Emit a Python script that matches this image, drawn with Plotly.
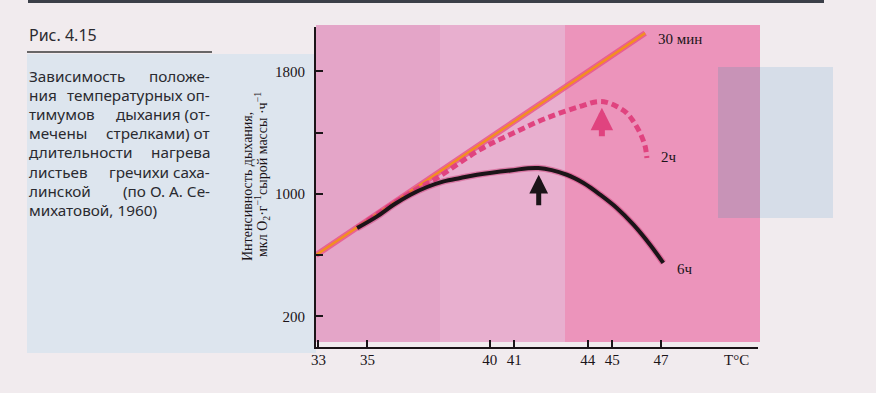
import plotly.graph_objects as go

# ---------------- data ----------------
t_30min = [32.9, 40.0, 46.35]
r_30min = [600, 1368, 2050]

t_2h = [35.0, 36.76, 37.84, 39.6, 40.97, 42.33, 43.69, 44.38, 44.78, 45.19, 45.6, 45.87, 46.14, 46.35, 46.42]
r_2h = [825, 1008, 1104, 1289, 1398, 1496, 1571, 1602, 1598, 1571, 1528, 1473, 1398, 1310, 1234]

t_6h = [34.58, 35.4, 36.07, 36.76, 37.44, 38.12, 38.8, 39.48, 40.84, 41.99, 43.15, 43.83, 44.51, 45.19, 45.87, 46.55, 47.09]
r_6h = [777, 853, 929, 995, 1045, 1082, 1104, 1125, 1153, 1169, 1125, 1071, 995, 908, 799, 668, 549]

series_names = ["30 мин", "2ч", "6ч"]

# optimum arrows (temperature, arrow tip, arrow tail)
opt_t = [42.0, 44.58]
opt_tip = [1125, 1563]
opt_tail = [916, 1367]

x_ticks = [33, 35, 40, 41, 44, 45, 47]
y_ticks = [200, 600, 1000, 1400, 1800]
y_ticktext = ["200", "", "1000", "", "1800"]

caption_title = "Рис. 4.15"
caption_lines = [
    ("Зависимость", "положе-"),
    ("ния", "температурных оп-"),
    ("тимумов", "дыхания (от-"),
    ("мечены", "стрелками) от"),
    ("длительности", "нагрева"),
    ("листьев", "гречихи саха-"),
    ("линской", "(по О. А. Се-"),
    ("михатовой, 1960)", None),
]

# ---------------- layout helpers ----------------
W, H = 876, 393
L, R, T, B = 316, 758, 27, 347  # plot area in pixels


def xp(px):
    return (px - L) / (R - L)


def yp(py):
    return (B - py) / (B - T)


SERIF = "Liberation Serif, Times New Roman, serif"
SANS = "Noto Sans, DejaVu Sans, sans-serif"
INK = "#1b1418"
TXT = "#2a2a30"

fig = go.Figure()

# 30 min: orange line with pink halo
fig.add_trace(go.Scatter(x=t_30min, y=r_30min, mode="lines",
                         line=dict(color="rgba(232,80,135,0.8)", width=6),
                         hoverinfo="skip", showlegend=False))
fig.add_trace(go.Scatter(x=t_30min, y=r_30min, mode="lines", name=series_names[0],
                         line=dict(color="#f28e22", width=2.5), showlegend=False))

# 2 h: pink dashed curve
fig.add_trace(go.Scatter(x=t_2h, y=r_2h, mode="lines", name=series_names[1],
                         line=dict(color="#e0437f", width=5, dash="7px,4px", shape="spline"),
                         showlegend=False))

# 6 h: black curve with reddish halo
fig.add_trace(go.Scatter(x=t_6h, y=r_6h, mode="lines",
                         line=dict(color="rgba(200,50,110,0.45)", width=6.5, shape="spline"),
                         hoverinfo="skip", showlegend=False))
fig.add_trace(go.Scatter(x=t_6h, y=r_6h, mode="lines", name=series_names[2],
                         line=dict(color=INK, width=4, shape="spline"),
                         showlegend=False))

shapes = []
# top dark rule
shapes.append(dict(type="rect", xref="paper", yref="paper", x0=xp(28), x1=xp(824), y0=yp(3), y1=yp(0),
                   fillcolor="#3b3f48", line=dict(width=0), layer="below"))
# left blue caption panel
shapes.append(dict(type="rect", xref="paper", yref="paper", x0=xp(27), x1=xp(316), y0=yp(353), y1=yp(54),
                   fillcolor="#dde5ee", line=dict(width=0), layer="below"))
# divider under caption title
shapes.append(dict(type="line", xref="paper", yref="paper", x0=xp(27), x1=xp(212), y0=yp(52), y1=yp(52),
                   line=dict(color="#3a3a3a", width=1.3), layer="below"))
# right blue panel
shapes.append(dict(type="rect", xref="paper", yref="paper", x0=xp(718), x1=xp(833), y0=yp(218), y1=yp(67),
                   fillcolor="#d6dde8", line=dict(width=0), layer="below"))
# pink plot backgrounds
shapes.append(dict(type="rect", xref="paper", yref="paper", x0=xp(316), x1=xp(440), y0=yp(342), y1=yp(25),
                   fillcolor="#e4a5c8", line=dict(width=0), layer="below"))
shapes.append(dict(type="rect", xref="paper", yref="paper", x0=xp(440), x1=xp(565), y0=yp(342), y1=yp(25),
                   fillcolor="#e8afcf", line=dict(width=0), layer="below"))
shapes.append(dict(type="rect", xref="paper", yref="paper", x0=xp(565), x1=xp(760), y0=yp(342), y1=yp(25),
                   fillcolor="#ec94bb", line=dict(width=0), layer="below"))
# overlap of pink and blue panel
shapes.append(dict(type="rect", xref="paper", yref="paper", x0=xp(718), x1=xp(760), y0=yp(218), y1=yp(67),
                   fillcolor="#c893b7", line=dict(width=0), layer="below"))

annotations = []
# caption
annotations.append(dict(text=caption_title, xref="paper", yref="paper", x=xp(27), y=yp(35),
                        xanchor="left", yanchor="middle", showarrow=False,
                        font=dict(family=SANS, size=16, color=TXT)))
for i, (left, right) in enumerate(caption_lines):
    ypos = yp(76 + i * 19.1)
    annotations.append(dict(text=left, xref="paper", yref="paper", x=xp(27), y=ypos,
                            xanchor="left", yanchor="middle", showarrow=False,
                            font=dict(family=SANS, size=15.3, color=TXT)))
    if right:
        annotations.append(dict(text=right, xref="paper", yref="paper", x=xp(212), y=ypos,
                                xanchor="right", yanchor="middle", showarrow=False,
                                font=dict(family=SANS, size=15.3, color=TXT)))

# y axis title (two rotated lines)
annotations.append(dict(text="Интенсивность дыхания,", xref="paper", yref="paper", x=xp(247), y=yp(187),
                        textangle=-90, xanchor="center", yanchor="middle", showarrow=False,
                        font=dict(family=SERIF, size=14, color=INK)))
annotations.append(dict(text="мкл O<sub>2</sub>·г<sup>−1</sup>сырой массы ·ч<sup>−1</sup>", xref="paper", yref="paper",
                        x=xp(262), y=yp(175), textangle=-90, xanchor="center", yanchor="middle", showarrow=False,
                        font=dict(family=SERIF, size=14, color=INK)))

# x axis unit
annotations.append(dict(text="T°C", xref="x", yref="paper", x=50.1, y=yp(360),
                        xanchor="center", yanchor="middle", showarrow=False,
                        font=dict(family=SERIF, size=15, color=INK)))

# series labels at line ends
annotations.append(dict(text=series_names[0], x=t_30min[-1], y=r_30min[-1], xanchor="left", yanchor="middle",
                        xshift=11, yshift=-6, showarrow=False, font=dict(family=SERIF, size=15, color=INK)))
annotations.append(dict(text=series_names[1], x=t_2h[-1], y=r_2h[-1], xanchor="left", yanchor="middle",
                        xshift=12, yshift=1, showarrow=False, font=dict(family=SERIF, size=15, color=INK)))
annotations.append(dict(text=series_names[2], x=t_6h[-1], y=r_6h[-1], xanchor="left", yanchor="middle",
                        xshift=12, yshift=-6, showarrow=False, font=dict(family=SERIF, size=15, color=INK)))

# optimum arrows
arrow_colors = [INK, "#e0437f"]
arrow_widths = [5, 6]
for t, tip, tail, c, w in zip(opt_t, opt_tip, opt_tail, arrow_colors, arrow_widths):
    annotations.append(dict(x=t, y=tip, ax=t, ay=tail, xref="x", yref="y", axref="x", ayref="y",
                            text="", showarrow=True, arrowhead=2, arrowsize=0.75, arrowwidth=w,
                            arrowcolor=c))

fig.update_layout(
    width=W, height=H, autosize=False,
    margin=dict(l=L, r=W - R, t=T, b=H - B, pad=0),
    paper_bgcolor="#f1ebee",
    plot_bgcolor="rgba(0,0,0,0)",
    shapes=shapes,
    annotations=annotations,
    showlegend=False,
)
fig.update_xaxes(range=[32.9, 50.96], tickvals=x_ticks, ticks="inside", ticklen=7, tickwidth=2,
                 tickcolor=INK, showline=True, linecolor=INK, linewidth=2, showgrid=False, zeroline=False,
                 tickfont=dict(family=SERIF, size=15, color=INK), ticklabelstandoff=-2)
fig.update_yaxes(range=[0, 2090], tickvals=y_ticks, ticktext=y_ticktext, ticks="inside", ticklen=7,
                 tickwidth=2, tickcolor=INK, showline=True, linecolor=INK, linewidth=2, showgrid=False,
                 zeroline=False, tickfont=dict(family=SERIF, size=15, color=INK), ticklabelstandoff=6)

fig.write_html("out.html",
               config={"displayModeBar": False},
               post_script="document.body.style.margin='0px';document.body.style.padding='0px';"
                           "document.body.style.background='#f1ebee';")
